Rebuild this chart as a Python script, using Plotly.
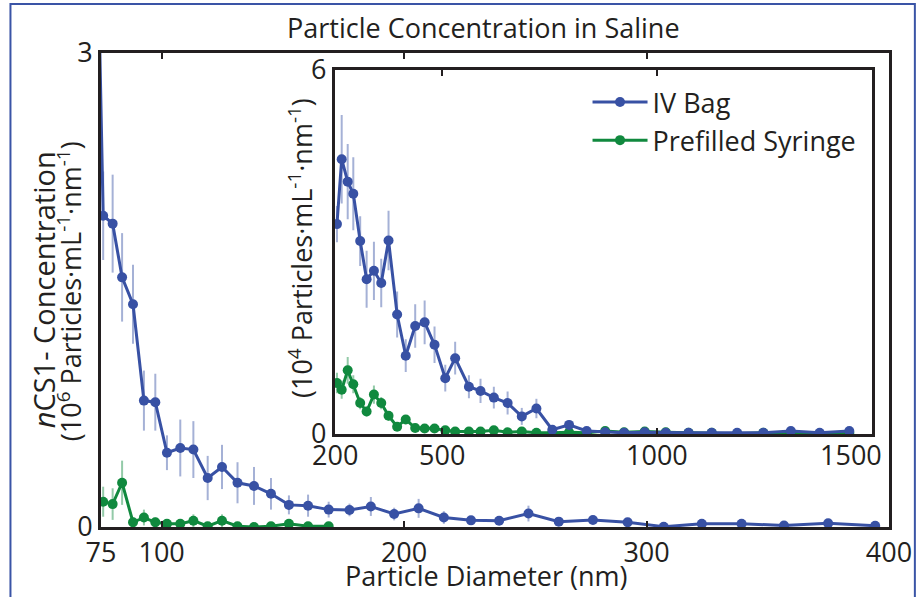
import plotly.graph_objects as go

# ---------------- data ----------------
main_x = [72.3, 75.9, 79.8, 83.7, 88.2, 92.7, 97.4, 102.2, 107.7, 113.1, 119.0, 124.9, 131.3,
          138.1, 145.1, 152.5, 160.4, 168.9, 177.5, 186.3, 195.9, 206.0, 216.4, 227.6, 239.2,
          251.3, 263.8, 277.9, 292.2, 307.1, 322.8, 339.2, 356.7, 374.9, 394.3]
main_blue = [4.7, 1.97, 1.92, 1.58, 1.41, 0.80, 0.79, 0.47, 0.50, 0.49, 0.31, 0.38, 0.28,
             0.26, 0.21, 0.14, 0.135, 0.11, 0.108, 0.13, 0.082, 0.118, 0.06, 0.042, 0.04,
             0.085, 0.034, 0.044, 0.03, 0.002, 0.02, 0.02, 0.01, 0.023, 0.008]
main_blue_err = [0, 0.28, 0.31, 0.28, 0.25, 0.19, 0.18, 0.11, 0.18, 0.18, 0.14, 0.14, 0.13,
                 0.12, 0.10, 0.06, 0.07, 0.05, 0.04, 0.06, 0.04, 0.06, 0.04, 0.02, 0.02,
                 0.05, 0.02, 0.02, 0.02, 0.01, 0.01, 0.01, 0.01, 0.01, 0.01]
main_green_x = [75.9, 79.8, 83.7, 88.2, 92.7, 97.4, 102.2, 107.7, 113.1, 119.0, 124.9, 131.3,
                138.1, 145.1, 152.5, 160.4, 168.9]
main_green = [0.16, 0.145, 0.28, 0.03, 0.06, 0.03, 0.02, 0.02, 0.04, 0.005, 0.04, 0.005,
              0.0, 0.005, 0.02, 0.005, 0.005]
main_green_err = [0.095, 0.1, 0.14, 0.03, 0.05, 0.03, 0.02, 0.02, 0.04, 0.01, 0.04, 0.01,
                  0.01, 0.01, 0.02, 0.01, 0.01]

inset_x = [255, 266, 280, 293, 309, 324, 341, 358, 375, 395, 415, 437, 459, 482, 507, 530,
           562, 589, 620, 652, 685, 719, 756, 795, 836, 879, 923, 971, 1020, 1073, 1127,
           1186, 1247, 1311, 1378, 1447]
inset_blue = [3.46, 4.53, 4.16, 3.96, 3.18, 2.55, 2.69, 2.49, 3.19, 1.97, 1.29, 1.78, 1.84,
              1.47, 0.92, 1.25, 0.78, 0.71, 0.60, 0.51, 0.29, 0.42, 0.07, 0.15, 0.05,
              0.03, 0.02, 0.03, 0.02, 0.02, 0.02, 0.02, 0.02, 0.05, 0.02, 0.05]
inset_blue_err = [0.3, 0.73, 0.62, 0.6, 0.41, 0.47, 0.48, 0.4, 0.49, 0.38, 0.27, 0.36, 0.36,
                  0.3, 0.22, 0.27, 0.19, 0.2, 0.18, 0.19, 0.14, 0.16, 0.05, 0.08, 0.04,
                  0.02, 0.02, 0.02, 0.02, 0.02, 0.02, 0.02, 0.02, 0.02, 0.02, 0.02]
inset_green = [0.84, 0.73, 1.05, 0.82, 0.51, 0.37, 0.65, 0.51, 0.30, 0.12, 0.24, 0.10, 0.09,
               0.09, 0.06, 0.04, 0.04, 0.04, 0.06, 0.03, 0.04, 0.02, 0.02, 0.03, 0.02,
               0.05, 0.03, 0.04, 0.03, 0.02, 0.02, 0.005, 0.02, 0.01, 0.005, 0.02]
inset_green_err = [0.17, 0.15, 0.22, 0.15, 0.1, 0.08, 0.15, 0.1, 0.08, 0.05, 0.06, 0.04, 0.03,
                   0.03, 0.03, 0.02, 0.02, 0.02, 0.02, 0.02, 0.02, 0.02, 0.02, 0.02, 0.02,
                   0.02, 0.02, 0.02, 0.02, 0.02, 0.02, 0.02, 0.02, 0.02, 0.02, 0.02]

series_names = ["IV Bag", "Prefilled Syringe"]
main_xticks = [75, 100, 200, 300, 400]
inset_xticks = [500, 1000]
inset_label_vals = [250, 500, 1000, 1500]
inset_label_text = ["200", "500", "1000", "1500"]

title_text = "Particle Concentration in Saline"
xtitle_text = "Particle Diameter (nm)"
ytitle_line1 = "<i>n</i>CS1- Concentration"
ytitle_line2 = "(10<sup>6</sup> Particles·mL<sup>-1</sup>·nm<sup>-1</sup>)"
inset_ytitle = "(10<sup>4</sup> Particles·mL<sup>-1</sup>·nm<sup>-1</sup>)"

# ---------------- style / layout ----------------
W, H = 924, 597
L, R, T, B = 101, 893, 53, 527          # main plot area in px
IL, IR, IT, IB = 336, 876, 70, 434      # inset plot area in px

def px_x(p):
    return (p - L) / (R - L)

def px_y(p):
    return (B - p) / (B - T)

BLUE = "rgb(56,81,164)"
GREEN = "rgb(16,137,62)"
BLUE_ERR = "rgba(56,81,164,0.45)"
GREEN_ERR = "rgba(16,137,62,0.45)"
AX = "#231F20"
TXT = "#231F20"
FONT = "Open Sans"
FS = 27

fig = go.Figure()

def add(x, y, err, color, ecolor, name, xa, ya):
    fig.add_trace(go.Scatter(
        x=x, y=y, mode="lines+markers", name=name, showlegend=False,
        xaxis=xa, yaxis=ya,
        line=dict(color=color, width=3),
        marker=dict(color=color, size=10),
        error_y=dict(type="data", array=err, visible=True, color=ecolor,
                     thickness=2, width=0),
    ))

add(main_green_x, main_green, main_green_err, GREEN, GREEN_ERR, series_names[1], "x", "y")
add(main_x, main_blue, main_blue_err, BLUE, BLUE_ERR, series_names[0], "x", "y")
add(inset_x, inset_green, inset_green_err, GREEN, GREEN_ERR, series_names[1], "x2", "y2")
add(inset_x, inset_blue, inset_blue_err, BLUE, BLUE_ERR, series_names[0], "x2", "y2")
# legend entries
for nm, col in zip(series_names, [BLUE, GREEN]):
    fig.add_trace(go.Scatter(x=[None], y=[None], mode="lines+markers", name=nm,
                             line=dict(color=col, width=3), marker=dict(color=col, size=10),
                             xaxis="x2", yaxis="y2"))

axis_common = dict(showline=True, linecolor=AX, linewidth=3, mirror="ticks",
                   ticks="inside", ticklen=6, tickwidth=2, tickcolor=AX,
                   showgrid=False, zeroline=False,
                   tickfont=dict(family=FONT, size=FS, color=TXT))

fig.update_layout(
    width=W, height=H,
    margin=dict(l=L, r=W - R, t=T, b=H - B),
    paper_bgcolor="white", plot_bgcolor="white",
    font=dict(family=FONT, size=FS, color=TXT),
    showlegend=True,
    legend=dict(x=px_x(590), y=px_y(78), xanchor="left", yanchor="top",
                bgcolor="rgba(0,0,0,0)", font=dict(family=FONT, size=FS, color=TXT),
                tracegroupgap=0, itemwidth=55),
    xaxis=dict(range=[75, 400], tickvals=main_xticks, ticktext=[str(v) for v in main_xticks],
               domain=[0, 1], **axis_common),
    yaxis=dict(range=[0, 3], tickvals=[0, 3], domain=[0, 1], **axis_common),
    xaxis2=dict(range=[250, 1500], tickvals=inset_xticks, showticklabels=False,
                domain=[px_x(IL), px_x(IR)], anchor="y2", **axis_common),
    yaxis2=dict(range=[0, 6], tickvals=[0, 6], domain=[px_y(IB), px_y(IT)], anchor="x2",
                **axis_common),
)

def pann(text, x, y, angle=0, size=FS):
    return dict(text=text, x=px_x(x), y=px_y(y), xref="paper", yref="paper",
                xanchor="center", yanchor="middle", textangle=angle, showarrow=False,
                font=dict(family=FONT, size=size, color=TXT))

annotations = [
    pann(title_text, 485, 27),
    pann(xtitle_text, 488, 575),
    pann(ytitle_line1, 43, 290, -90, 29),
    pann(ytitle_line2, 69, 291, -90),
    pann(inset_ytitle, 301, 248, -90),
]
for v, t in zip(inset_label_vals, inset_label_text):
    anchor = "right" if v == inset_label_vals[-1] else "center"
    annotations.append(dict(text=t, x=v, y=0, xref="x2", yref="y2", yanchor="top",
                            xanchor=anchor, xshift=12 if anchor == "right" else 0, yshift=0,
                            showarrow=False, font=dict(family=FONT, size=FS, color=TXT)))
fig.update_layout(annotations=annotations)

# outer blue frame
fig.add_shape(type="rect", xref="paper", yref="paper",
              x0=px_x(10), x1=px_x(919), y0=px_y(640), y1=px_y(4),
              line=dict(color="rgb(58,84,166)", width=2), fillcolor="rgba(0,0,0,0)",
              layer="below")

fig.write_html("out.html", config={"displayModeBar": False},
               post_script="document.body.style.margin='0';document.body.style.overflow='hidden';")
